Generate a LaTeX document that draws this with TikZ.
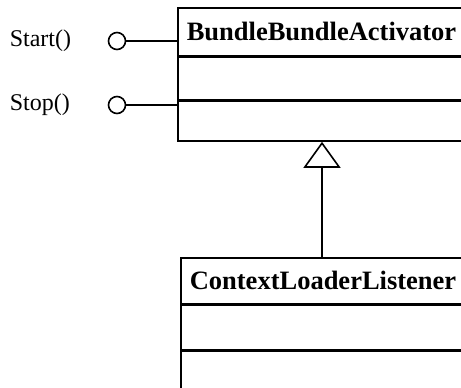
\documentclass[tikz,border=0pt]{standalone}
\usepackage{fontspec}
\setmainfont{Liberation Serif}
\usetikzlibrary{arrows.meta, positioning}

\begin{document}
\begin{tikzpicture}[x=1pt, y=-1pt, line width=1.6pt,
    >={Triangle[open, length=26pt, width=37pt, line width=1.6pt]}]
  \tikzset{
    clstitle/.style={draw, anchor=north west, text width=300pt, align=left,
                     inner xsep=9pt, inner ysep=0pt,
                     font=\fontsize{26.5}{30}\selectfont\bfseries},
    clsbox/.style={draw, minimum width=318pt, inner sep=0pt},
    lolly/.style={draw, circle, minimum size=17pt, inner sep=0pt},
    ifname/.style={anchor=west, inner sep=0pt, font=\fontsize{24}{28}\selectfont}
  }
  \useasboundingbox (0,0) rectangle (461,388);
  \clip (0,0) rectangle (461,388);
  \fill[white] (0,0) rectangle (461,388);

  % Parent class
  \node[clstitle, minimum height=48pt] (act) at (177,7) {BundleBundleActivator};
  \node[clsbox, minimum height=42pt, below=0pt of act] (actA) {};
  \node[clsbox, minimum height=40pt, below=0pt of actA] (actB) {};

  % Interface lollipops
  \node[lolly] (startc) at (117,41) {};
  \node[ifname] (startl) at (9,41) {Start()};
  \node[lolly] (stopc) at (117,105) {};
  \node[ifname] (stopl) at (9,105) {Stop()};
  \draw (startc) -- (act.west |- startc);
  \draw (stopc) -- (actB.west |- stopc);

  % Child class
  \node[clstitle, minimum height=46pt] (ctx) at (180,257) {ContextLoaderListener};
  \node[clsbox, minimum height=44pt, below=0pt of ctx] (ctxA) {};
  \node[clsbox, minimum height=44pt, below=0pt of ctxA] (ctxB) {};

  % Inheritance
  \coordinate (ctxtop) at (322,257);
  \draw[->] (ctxtop) -- (ctxtop |- actB.south);
\end{tikzpicture}
\end{document}
